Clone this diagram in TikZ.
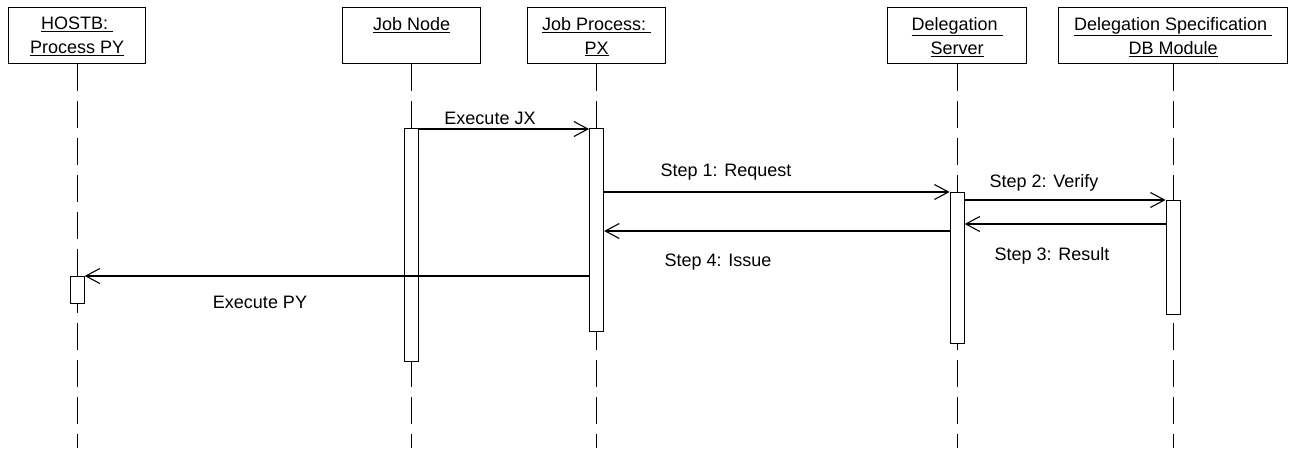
\documentclass[tikz,border=0pt]{standalone}
\usepackage{fontspec}
\setmainfont{Liberation Sans}
\usetikzlibrary{arrows.meta}
\begin{document}
\begin{tikzpicture}[x=1pt,y=-1pt,
  every node/.style={font=\fontsize{18}{24}\selectfont},
  obj/.style={draw, line width=1.2pt, minimum height=56pt, anchor=north west,
    inner sep=0pt, align=center, text depth=0pt},
  lifeline/.style={line width=1.1pt, dash pattern=on 27pt off 10pt},
  bar/.style={draw, fill=white, line width=1.1pt, minimum width=14pt, anchor=north, inner sep=0pt},
  msg/.style={line width=1.1pt, -{Straight Barb[length=14pt, width=15pt, line width=1.1pt]}},
  lbl/.style={inner sep=0pt}
]
\useasboundingbox (0,0) rectangle (1289,448);
% objects
\node[obj, minimum width=137pt] (hostb) at (8,7) {\underline{HOSTB:\ }\\\underline{Process PY}};
\node[obj, minimum width=138pt] (jnode) at (342,7) {\underline{Job Node}\\\mbox{}};
\node[obj, minimum width=138pt] (jproc) at (527,7) {\underline{Job Process:\ }\\\underline{PX}};
\node[obj, minimum width=139pt] (dserv) at (887,7) {\underline{Delegation\ }\\\underline{Server}};
\node[obj, minimum width=229pt] (dspec) at (1058,7) {\underline{Delegation Specification\ }\\\underline{DB Module}};
% lifeline ends
\coordinate (hostbE) at (hostb.south |- 0,448);
\coordinate (jnodeE) at (jnode.south |- 0,448);
\coordinate (jprocE) at (jproc.south |- 0,448);
\coordinate (dservE) at (dserv.south |- 0,448);
\coordinate (dspecE) at (dspec.south |- 0,448);
\draw[lifeline] (hostb.south) -- (hostbE);
\draw[lifeline] (jnode.south) -- (jnodeE);
\draw[lifeline] (jproc.south) -- (jprocE);
\draw[lifeline] (dserv.south) -- (dservE);
\draw[lifeline] (dspec.south) -- (dspecE);
% activation bars
\node[bar, minimum height=27pt] (hbar) at (hostb.south |- 0,276) {};
\node[bar, minimum height=233pt] (jnbar) at (jnode.south |- 0,128) {};
\node[bar, minimum height=203pt] (jpbar) at (jproc.south |- 0,128) {};
\node[bar, minimum height=151pt] (dsbar) at (dserv.south |- 0,192) {};
\node[bar, minimum height=114pt] (dbbar) at (dspec.south |- 0,200) {};
% messages
\draw[msg] (jnbar.east |- 0,129) -- (jpbar.west |- 0,129);
\draw[msg] (jpbar.east |- 0,192) -- (dsbar.west |- 0,192);
\draw[msg] (dsbar.east |- 0,200) -- (dbbar.west |- 0,200);
\draw[msg] (dbbar.west |- 0,224) -- (dsbar.east |- 0,224);
\draw[msg] (dsbar.west |- 0,231) -- (jpbar.east |- 0,231);
\draw[msg] (jpbar.west |- 0,276) -- (hbar.east |- 0,276);
% labels
\node[lbl] (l1) at (490,118) {Execute JX};
\node[lbl] (l2) at (726,172) {Step 1: Request};
\node[lbl] (l3) at (1044,183) {Step 2: Verify};
\node[lbl] (l4) at (1052,256) {Step 3: Result};
\node[lbl] (l5) at (718,262) {Step 4: Issue};
\node[lbl] (l6) at (260,302) {Execute PY};
\end{tikzpicture}
\end{document}
